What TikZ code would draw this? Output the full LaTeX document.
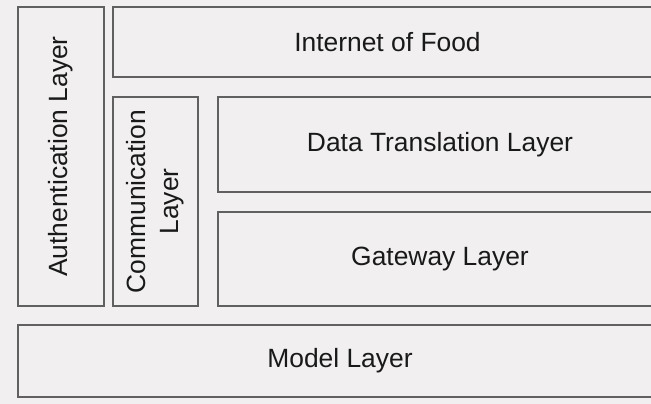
\documentclass[tikz,border=0pt]{standalone}
\usepackage{fontspec}
\setmainfont{Liberation Sans}
\definecolor{bgcol}{RGB}{241,239,239}
\definecolor{edgecol}{RGB}{96,96,96}
\tikzset{
    layer/.style={draw=edgecol, line width=1.5pt, rectangle, inner sep=0pt, outer sep=0pt,
        align=center, font=\fontsize{26.4}{33}\selectfont, text=black!90},
}
\begin{document}
\begin{tikzpicture}[x=1pt, y=-1pt]
    \useasboundingbox (0,0) rectangle (651,404);
    \clip (0,0) rectangle (651,404);
    \fill[bgcol] (0,0) rectangle (651,404);
    % side layers
    \node[layer, rotate=90, minimum width=299pt, minimum height=86pt] (auth) at (61,156.5) {Authentication Layer};
    \node[layer, rotate=90, minimum width=209pt, minimum height=85pt] (comm) at (155.5,201.5) {Communication\\Layer};
    % stacked layers
    \node[layer, minimum width=549pt, minimum height=70pt] (iof) at (387.5,42) {Internet of Food};
    \node[layer, minimum width=444pt, minimum height=95pt] (data) at (440,144.5) {Data Translation Layer};
    \node[layer, minimum width=444pt, minimum height=94pt] (gate) at (440,259) {Gateway Layer};
    \node[layer, minimum width=644pt, minimum height=72pt] (model) at (340,361) {Model Layer};
\end{tikzpicture}
\end{document}
